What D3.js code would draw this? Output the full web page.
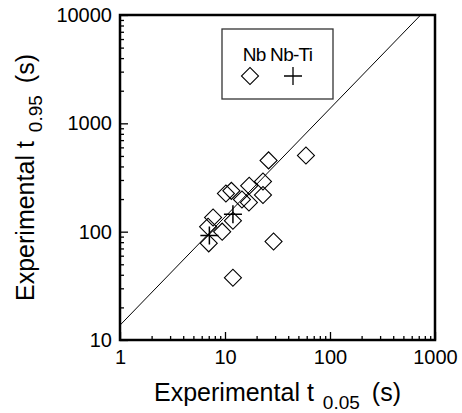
<!DOCTYPE html>
<html>
<head>
<meta charset="utf-8">
<script src="https://cdn.jsdelivr.net/npm/d3@7"></script>
<style>
  body { margin: 0; background: #fff; }
  svg { display: block; font-family: "Liberation Sans", Arial, sans-serif; }
</style>
</head>
<body>
<svg id="chart" width="462" height="413"></svg>
<script>
// t0.05 / t0.95 pairs (seconds)
const nbPoints = [
  [26, 455], [59, 505], [23, 290], [17, 265], [23, 218],
  [10.2, 225], [11.5, 238], [14.5, 198], [16.9, 186],
  [11.9, 126], [7.7, 135], [6.9, 111], [9.4, 100], [7.0, 78],
  [29, 81], [11.9, 37.5]
]
const nbTiPoints = [[11.9, 145], [7.1, 92]]
const legendLabels = ['Nb', 'Nb-Ti']
const xMajorTicks = [1, 10, 100, 1000]
const yMajorTicks = [10, 100, 1000, 10000]
const lineRatio = 13.7 // t0.95 = ratio * t0.05

const margin = { left: 120, top: 15, right: 27, bottom: 73 }
const width = 462 - margin.left - margin.right
const height = 413 - margin.top - margin.bottom

const svg = d3.select('#chart')
const g = svg.append('g').attr('transform', `translate(${margin.left},${margin.top})`)

const x = d3.scaleLog().domain([1, 1000]).range([0, width])
const y = d3.scaleLog().domain([10, 10000]).range([height, 0])

function minorTicks(majors) {
  const out = []
  for (let i = 0; i < majors.length - 1; i++) {
    for (let m = 2; m <= 9; m++) out.push(majors[i] * m)
  }
  return out
}

// minor ticks (no labels), pointing inward
g.append('g')
  .attr('transform', `translate(0,${height})`)
  .call(d3.axisBottom(x).tickValues(minorTicks(xMajorTicks)).tickSize(-4).tickFormat(''))
g.append('g')
  .call(d3.axisLeft(y).tickValues(minorTicks(yMajorTicks)).tickSize(-4).tickFormat(''))

// major ticks with labels
g.append('g')
  .attr('transform', `translate(0,${height})`)
  .call(d3.axisBottom(x).tickValues(xMajorTicks).tickSize(-8).tickPadding(10).tickFormat(d3.format('d')))
g.append('g')
  .call(d3.axisLeft(y).tickValues(yMajorTicks).tickSize(-8).tickPadding(8).tickFormat(d3.format('d')))

g.selectAll('.domain').remove()
g.selectAll('.tick line').attr('stroke', '#000').attr('stroke-width', 1.3)
g.selectAll('.tick text').attr('fill', '#000').attr('font-size', 20)
  .attr('font-family', '"Liberation Sans", Arial, sans-serif')

// diagonal reference line
const lineData = [[1, lineRatio], [10000 / lineRatio, 10000]]
g.append('path')
  .attr('d', d3.line().x(d => x(d[0])).y(d => y(d[1]))(lineData))
  .attr('fill', 'none')
  .attr('stroke', '#000')
  .attr('stroke-width', 1)

// data
const diamond = d3.symbol().type(d3.symbolSquare).size(145)
g.selectAll('path.nb')
  .data(nbPoints)
  .join('path')
  .attr('class', 'nb')
  .attr('d', diamond)
  .attr('transform', d => `translate(${x(d[0])},${y(d[1])}) rotate(45)`)
  .attr('fill', 'none')
  .attr('stroke', '#000')
  .attr('stroke-width', 1.1)

function plusPath(s) {
  return `M${-s},0H${s}M0,${-s}V${s}`
}
g.selectAll('path.nbti')
  .data(nbTiPoints)
  .join('path')
  .attr('class', 'nbti')
  .attr('d', plusPath(9))
  .attr('transform', d => `translate(${x(d[0])},${y(d[1])})`)
  .attr('fill', 'none')
  .attr('stroke', '#000')
  .attr('stroke-width', 1.5)

// frame
g.append('rect')
  .attr('width', width).attr('height', height)
  .attr('fill', 'none').attr('stroke', '#000').attr('stroke-width', 2.5)

// legend
const leg = svg.append('g').attr('transform', 'translate(222,29)')
leg.append('rect').attr('width', 111).attr('height', 70)
  .attr('fill', 'none').attr('stroke', '#333').attr('stroke-width', 1.3)
leg.append('text').attr('x', 55.5).attr('y', 32).attr('font-size', 19)
  .attr('text-anchor', 'middle')
  .attr('letter-spacing', -0.7)
  .text(legendLabels.join(' '))
leg.append('path').attr('d', diamond)
  .attr('transform', 'translate(28,47) rotate(45)')
  .attr('fill', 'none').attr('stroke', '#000').attr('stroke-width', 1.1)
leg.append('path').attr('d', plusPath(9))
  .attr('transform', 'translate(71,47)')
  .attr('fill', 'none').attr('stroke', '#000').attr('stroke-width', 1.3)

// axis titles
function title(sel, sub) {
  sel.attr('font-size', 25).attr('text-anchor', 'middle').attr('fill', '#000')
  sel.append('tspan').text('Experimental t')
  sel.append('tspan').attr('dx', 9).attr('dy', 8).attr('font-size', 19).text(sub)
  sel.append('tspan').attr('dx', 12).attr('dy', -8).text('(s)')
}
svg.append('text')
  .attr('x', margin.left + width / 2).attr('y', 401)
  .call(title, '0.05')
svg.append('text')
  .attr('transform', `translate(34,${margin.top + height / 2}) rotate(-90)`)
  .call(title, '0.95')
</script>
</body>
</html>
